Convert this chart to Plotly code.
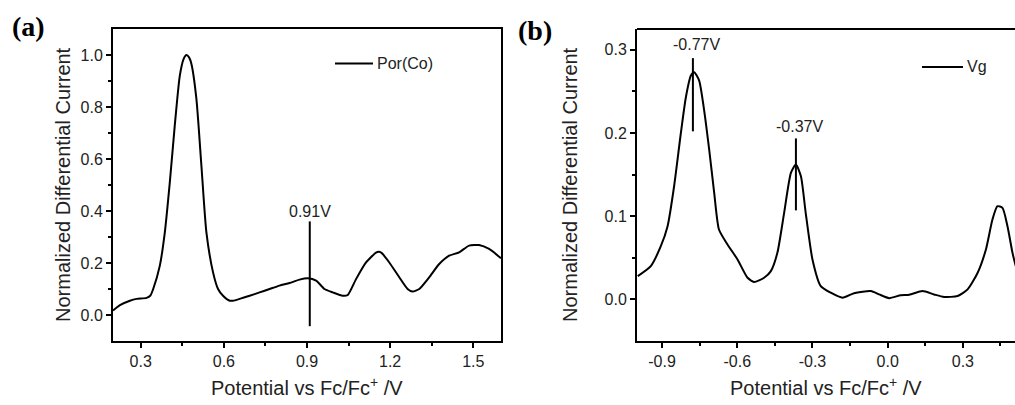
import plotly.graph_objects as go

W, H = 1015, 405

# ---- Panel (a) data: Por(Co) ----
pot_a = [0.200, 0.225, 0.261, 0.285, 0.321, 0.335, 0.345, 0.369, 0.387, 0.405, 0.423,
         0.441, 0.455, 0.465, 0.475, 0.483, 0.501, 0.519, 0.537, 0.561, 0.579, 0.597,
         0.621, 0.633, 0.657, 0.693, 0.729, 0.765, 0.801, 0.837, 0.873, 0.903, 0.933,
         0.963, 0.993, 1.029, 1.047, 1.077, 1.113, 1.149, 1.160, 1.170, 1.197, 1.233,
         1.263, 1.281, 1.305, 1.341, 1.377, 1.413, 1.449, 1.485, 1.521, 1.557, 1.600]
cur_a = [0.017, 0.038, 0.055, 0.062, 0.066, 0.075, 0.100, 0.190, 0.318, 0.510, 0.730,
         0.920, 0.985, 1.000, 0.990, 0.965, 0.830, 0.574, 0.318, 0.164, 0.100, 0.074,
         0.055, 0.055, 0.062, 0.074, 0.087, 0.100, 0.113, 0.123, 0.136, 0.141, 0.132,
         0.100, 0.087, 0.074, 0.077, 0.138, 0.202, 0.240, 0.243, 0.238, 0.202, 0.145,
         0.100, 0.090, 0.100, 0.145, 0.196, 0.228, 0.241, 0.267, 0.269, 0.254, 0.218]

# ---- Panel (b) data: Vg ----
pot_b = [-0.997, -0.945, -0.905, -0.878, -0.852, -0.825, -0.805, -0.785, -0.772, -0.752,
         -0.732, -0.712, -0.692, -0.673, -0.639, -0.599, -0.559, -0.533, -0.493, -0.466,
         -0.440, -0.413, -0.386, -0.366, -0.346, -0.327, -0.300, -0.267, -0.227, -0.180,
         -0.134, -0.067, -0.034, 0.006, 0.052, 0.086, 0.139, 0.185, 0.225, 0.279, 0.319,
         0.359, 0.392, 0.418, 0.438, 0.458, 0.478, 0.498, 0.511]
cur_b = [0.028, 0.040, 0.064, 0.088, 0.136, 0.200, 0.243, 0.269, 0.273, 0.263,
         0.227, 0.180, 0.128, 0.084, 0.066, 0.048, 0.026, 0.021, 0.026, 0.034,
         0.056, 0.104, 0.152, 0.162, 0.148, 0.104, 0.048, 0.016, 0.008, 0.002,
         0.0075, 0.010, 0.006, 0.0015, 0.005, 0.0055, 0.010, 0.006, 0.003, 0.004, 0.012,
         0.032, 0.060, 0.096, 0.112, 0.110, 0.088, 0.056, 0.040]

# ---- Peak markers ----
mark_a_x = [0.91]
mark_a_y0 = [-0.043]
mark_a_y1 = [0.36]
mark_a_lbl = ["0.91V"]
mark_a_lbl_y = [0.40]

mark_b_x = [-0.777, -0.366]
mark_b_y0 = [0.202, 0.107]
mark_b_y1 = [0.290, 0.1935]
mark_b_lbl = ["-0.77V", "-0.37V"]
mark_b_lbl_x = [-0.762, -0.350]
mark_b_lbl_y = [0.306, 0.208]

FONT = "Liberation Sans, Arial, sans-serif"
TXT = "#222"

fig = go.Figure()
fig.add_trace(go.Scatter(x=pot_a, y=cur_a, mode="lines", name="Por(Co)",
                         line=dict(color="black", width=2, shape="spline", smoothing=0.6),
                         xaxis="x", yaxis="y", showlegend=False))
fig.add_trace(go.Scatter(x=pot_b, y=cur_b, mode="lines", name="Vg",
                         line=dict(color="black", width=2, shape="spline", smoothing=0.6),
                         xaxis="x2", yaxis="y2", showlegend=False))

xa = [113 / W, 501 / W]
xb = [637 / W, 1.0]
yd = [1 - 341 / H, 1 - 29 / H]

common = dict(showline=True, linecolor="black", linewidth=2, ticks="outside",
              ticklen=5, tickwidth=1.5, tickcolor="black", showgrid=False,
              zeroline=False, tickfont=dict(family=FONT, size=16, color=TXT))
minor_common = dict(ticklen=3, tickwidth=1.5, tickcolor="black", ticks="outside", showgrid=False)

fig.update_layout(
    width=W, height=H, margin=dict(l=0, r=0, t=0, b=0),
    paper_bgcolor="white", plot_bgcolor="white",
    xaxis=dict(domain=xa, range=[0.2, 1.6], tickvals=[0.3, 0.6, 0.9, 1.2, 1.5],
               ticktext=["0.3", "0.6", "0.9", "1.2", "1.5"], mirror=True, anchor="y",
               minor=dict(tickvals=[0.45, 0.75, 1.05, 1.35], **minor_common),
               **common),
    yaxis=dict(domain=yd, range=[-0.1, 1.1], tickvals=[0, 0.2, 0.4, 0.6, 0.8, 1.0],
               ticktext=["0.0", "0.2", "0.4", "0.6", "0.8", "1.0"], mirror=True, anchor="x",
               minor=dict(tickvals=[0.1, 0.3, 0.5, 0.7, 0.9], **minor_common),
               **common),
    xaxis2=dict(domain=xb, range=[-1.0, 0.508], tickvals=[-0.9, -0.6, -0.3, 0.0, 0.3],
                ticktext=["-0.9", "-0.6", "-0.3", "0.0", "0.3"], anchor="y2",
                minor=dict(tickvals=[-0.75, -0.45, -0.15, 0.15, 0.45], **minor_common),
                **common),
    yaxis2=dict(domain=yd, range=[-0.05, 0.325], tickvals=[0, 0.1, 0.2, 0.3],
                ticktext=["0.0", "0.1", "0.2", "0.3"], anchor="x2",
                minor=dict(tickvals=[0.05, 0.15, 0.25], **minor_common),
                **common),
)

shapes = []
annos = []
# top border of panel (b) (right side is cut off)
shapes.append(dict(type="line", xref="x2 domain", yref="y2 domain", x0=0, x1=1, y0=1, y1=1,
                   line=dict(color="black", width=2)))

for x, y0, y1 in zip(mark_a_x, mark_a_y0, mark_a_y1):
    shapes.append(dict(type="line", xref="x", yref="y", x0=x, x1=x, y0=y0, y1=y1,
                       line=dict(color="black", width=2)))
for x, y, t in zip(mark_a_x, mark_a_lbl_y, mark_a_lbl):
    annos.append(dict(x=x, y=y, xref="x", yref="y", text=t, showarrow=False,
                      xanchor="center", yanchor="middle",
                      font=dict(family=FONT, size=16, color=TXT)))
for x, y0, y1 in zip(mark_b_x, mark_b_y0, mark_b_y1):
    shapes.append(dict(type="line", xref="x2", yref="y2", x0=x, x1=x, y0=y0, y1=y1,
                       line=dict(color="black", width=2)))
for x, y, t in zip(mark_b_lbl_x, mark_b_lbl_y, mark_b_lbl):
    annos.append(dict(x=x, y=y, xref="x2", yref="y2", text=t, showarrow=False,
                      xanchor="center", yanchor="middle",
                      font=dict(family=FONT, size=16, color=TXT)))

# legend samples
shapes.append(dict(type="line", xref="paper", yref="paper", x0=335 / W, x1=373 / W,
                   y0=1 - 63.5 / H, y1=1 - 63.5 / H, line=dict(color="black", width=2)))
annos.append(dict(x=375 / W, y=1 - 63.5 / H, xref="paper", yref="paper", text="Por(Co)",
                  xanchor="left", yanchor="middle", showarrow=False,
                  font=dict(family=FONT, size=16, color=TXT)))
shapes.append(dict(type="line", xref="paper", yref="paper", x0=922 / W, x1=963 / W,
                   y0=1 - 67 / H, y1=1 - 67 / H, line=dict(color="black", width=2)))
annos.append(dict(x=965 / W, y=1 - 67 / H, xref="paper", yref="paper", text="Vg",
                  xanchor="left", yanchor="middle", showarrow=False,
                  font=dict(family=FONT, size=16, color=TXT)))

# axis titles
TF = dict(family=FONT, size=20, color=TXT)
annos.append(dict(x=63 / W, y=1 - 185 / H, xref="paper", yref="paper", textangle=-90,
                  xanchor="center", yanchor="middle",
                  text="Normalized Differential Current", showarrow=False, font=TF))
annos.append(dict(x=570 / W, y=1 - 185 / H, xref="paper", yref="paper", textangle=-90,
                  xanchor="center", yanchor="middle",
                  text="Normalized Differential Current", showarrow=False, font=TF))
annos.append(dict(x=307 / W, y=1 - 386 / H, xref="paper", yref="paper",
                  xanchor="center", yanchor="middle",
                  text="Potential vs Fc/Fc<sup>+</sup> /V", showarrow=False, font=TF))
annos.append(dict(x=826 / W, y=1 - 386 / H, xref="paper", yref="paper",
                  xanchor="center", yanchor="middle",
                  text="Potential vs Fc/Fc<sup>+</sup> /V", showarrow=False, font=TF))

# panel labels
PF = dict(family="Liberation Serif, Times New Roman, serif", size=28, color="black")
annos.append(dict(x=28 / W, y=1 - 27 / H, xref="paper", yref="paper", text="<b>(a)</b>",
                  xanchor="center", yanchor="middle", showarrow=False, font=PF))
annos.append(dict(x=535 / W, y=1 - 30 / H, xref="paper", yref="paper", text="<b>(b)</b>",
                  xanchor="center", yanchor="middle", showarrow=False, font=PF))

fig.update_layout(shapes=shapes, annotations=annos)
fig.write_html("out.html")
